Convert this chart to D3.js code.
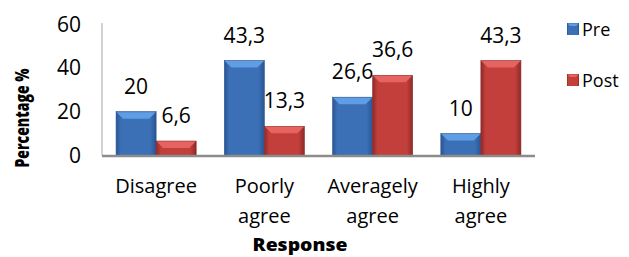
<!DOCTYPE html>
<html>
<head>
<meta charset="utf-8">
<script src="https://cdn.jsdelivr.net/npm/d3@7/dist/d3.min.js"></script>
<style>
  html, body { margin: 0; padding: 0; background: #fff; }
  svg { display: block; font-family: "Open Sans", sans-serif; }
</style>
</head>
<body>
<div id="chart"></div>
<script>
// chart data
const categories = [['Disagree'], ['Poorly', 'agree'], ['Averagely', 'agree'], ['Highly', 'agree']];
const seriesNames = ['Pre', 'Post'];
const preValues = [20, 43.3, 26.6, 10];
const postValues = [6.6, 13.3, 36.6, 43.3];
const yTicks = [0, 20, 40, 60];

const width = 629, height = 257;
const margin = { top: 24, right: 94, bottom: 102, left: 102 };

const palette = {
  Pre: { body: '#3b70b6', light: '#5f9de4', dark: '#2a5592' },
  Post: { body: '#c33f3b', light: '#e56462', dark: '#8f2a28' }
};

const svg = d3.select('#chart').append('svg')
  .attr('width', width)
  .attr('height', height);

// gradients for the bevelled bars
const defs = svg.append('defs');
seriesNames.forEach(name => {
  const c = palette[name];
  const g = defs.append('linearGradient')
    .attr('id', 'grad-' + name)
    .attr('x1', '0').attr('x2', '1').attr('y1', '0').attr('y2', '0');
  g.append('stop').attr('offset', '0%').attr('stop-color', c.dark);
  g.append('stop').attr('offset', '12%').attr('stop-color', c.body);
  g.append('stop').attr('offset', '85%').attr('stop-color', c.body);
  g.append('stop').attr('offset', '100%').attr('stop-color', c.dark);
});

const x = d3.scaleBand()
  .domain(categories.map(d => d.join(' ')))
  .range([margin.left, width - margin.right])
  .paddingInner(0.26)
  .paddingOuter(0.13);

const xSub = d3.scaleBand()
  .domain(seriesNames)
  .range([0, x.bandwidth()]);

const y = d3.scaleLinear()
  .domain([0, 60])
  .range([height - margin.bottom + 0.5, margin.top]);

// vertical axis line
svg.append('line')
  .attr('x1', margin.left).attr('x2', margin.left)
  .attr('y1', y(60) - 1).attr('y2', y(0))
  .attr('stroke', '#a6a6a6')
  .attr('stroke-width', 1);

// y tick labels
svg.append('g')
  .selectAll('text')
  .data(yTicks)
  .join('text')
  .attr('x', 81)
  .attr('y', d => y(d))
  .attr('dy', '0.36em')
  .attr('text-anchor', 'end')
  .attr('font-size', 21)
  .attr('fill', '#000')
  .text(d => d);

// bars
const rows = categories.map((c, i) => ({
  key: c.join(' '),
  values: [
    { series: 'Pre', value: preValues[i] },
    { series: 'Post', value: postValues[i] }
  ]
}));

const groups = svg.append('g')
  .selectAll('g')
  .data(rows)
  .join('g')
  .attr('transform', d => `translate(${x(d.key)},0)`);

const bars = groups.selectAll('g.bar')
  .data(d => d.values)
  .join('g')
  .attr('class', 'bar');

bars.append('rect')
  .attr('x', d => xSub(d.series))
  .attr('y', d => y(d.value))
  .attr('width', xSub.bandwidth())
  .attr('height', d => y(0) - y(d.value))
  .attr('fill', d => `url(#grad-${d.series})`)
  .attr('stroke', d => palette[d.series].dark)
  .attr('stroke-width', 0.6);

// light bevel on top of each bar
const bevel = 7;
bars.append('path')
  .attr('d', d => {
    const x0 = xSub(d.series), x1 = x0 + xSub.bandwidth();
    const top = y(d.value);
    const h = Math.min(bevel, y(0) - top);
    return `M${x0 + 0.5},${top + 0.5} L${x1 - 0.5},${top + 0.5} L${x1 - h},${top + h} L${x0 + h},${top + h} Z`;
  })
  .attr('fill', d => palette[d.series].light);

// value labels
bars.append('text')
  .attr('x', d => xSub(d.series) + xSub.bandwidth() / 2)
  .attr('y', d => y(d.value) - 18)
  .attr('text-anchor', 'middle')
  .attr('font-size', 21)
  .attr('fill', '#000')
  .text(d => String(d.value).replace('.', ','));

// baseline
svg.append('line')
  .attr('x1', margin.left).attr('x2', width - margin.right)
  .attr('y1', y(0) + 0.5).attr('y2', y(0) + 0.5)
  .attr('stroke', '#8c8c8c')
  .attr('stroke-width', 2.5);

// category labels
const catLabels = svg.append('g')
  .selectAll('text')
  .data(categories)
  .join('text')
  .attr('x', d => x(d.join(' ')) + x.bandwidth() / 2)
  .attr('y', 193)
  .attr('text-anchor', 'middle')
  .attr('font-size', 20)
  .attr('fill', '#000');

catLabels.selectAll('tspan')
  .data(d => d)
  .join('tspan')
  .attr('x', function () { return d3.select(this.parentNode).attr('x'); })
  .attr('dy', (d, i) => i === 0 ? 0 : 30)
  .text(d => d);

// axis titles
svg.append('text')
  .attr('x', 300)
  .attr('y', 251)
  .attr('text-anchor', 'middle')
  .attr('font-size', 17)
  .attr('font-weight', 800)
  .attr('textLength', 95)
  .attr('lengthAdjust', 'spacingAndGlyphs')
  .text('Response');

svg.append('text')
  .attr('transform', 'translate(29,118) rotate(-90)')
  .attr('text-anchor', 'middle')
  .attr('font-size', 19)
  .attr('font-weight', 800)
  .attr('textLength', 99)
  .attr('lengthAdjust', 'spacingAndGlyphs')
  .text('Percentage %');

// legend
const legend = svg.append('g')
  .attr('transform', 'translate(567,23)');

const legendItems = legend.selectAll('g')
  .data(seriesNames)
  .join('g')
  .attr('transform', (d, i) => `translate(0,${i * 51})`);

legendItems.append('rect')
  .attr('width', 12)
  .attr('height', 12)
  .attr('fill', d => `url(#grad-${d})`);

legendItems.append('path')
  .attr('d', 'M0.5,0.5 L11.5,0.5 L9,3 L3,3 Z')
  .attr('fill', d => palette[d].light);

legendItems.append('text')
  .attr('x', 15)
  .attr('y', 13)
  .attr('font-size', 18)
  .attr('fill', '#000')
  .text(d => d);
</script>
</body>
</html>
